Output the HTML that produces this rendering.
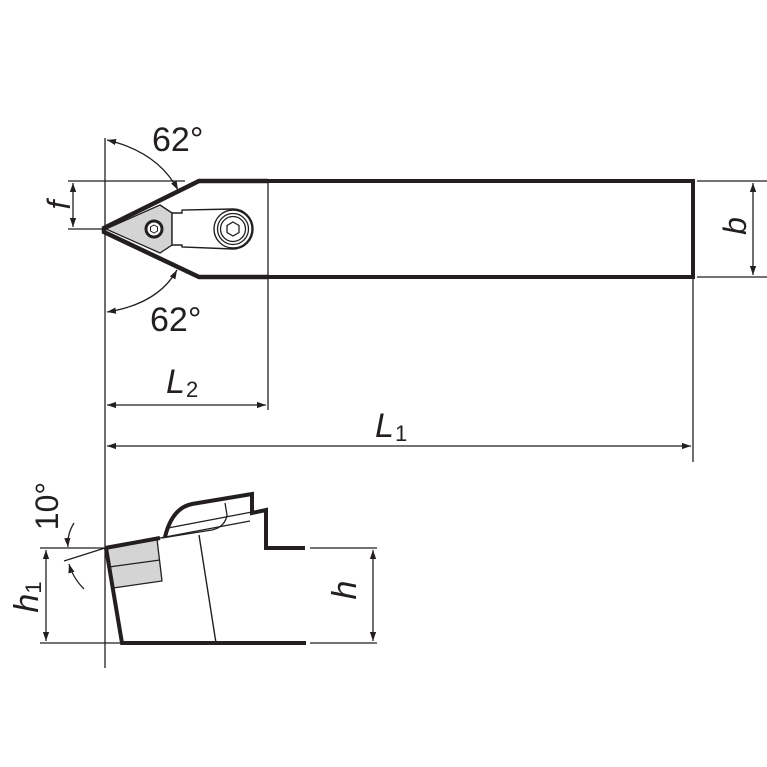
<!DOCTYPE html><html><head><style>body{margin:0;background:#fff}svg{display:block}text{font-family:"Liberation Sans",sans-serif;fill:#231f20}</style></head><body>
<svg width="767" height="767" viewBox="0 0 767 767" xmlns="http://www.w3.org/2000/svg">
<defs><marker id="a" viewBox="0 0 10 10" refX="10" refY="5" markerWidth="9" markerHeight="9" orient="auto-start-reverse" markerUnits="userSpaceOnUse"><path d="M0,1.5 L10,5 L0,8.5 Z" fill="#231f20"/></marker></defs>
<g stroke="#231f20" fill="none" stroke-width="1.3">
<line x1="105" y1="138" x2="105" y2="668"/>
<line x1="268" y1="181" x2="268" y2="410"/>
<line x1="693" y1="277" x2="693" y2="462"/>
<line x1="68" y1="181" x2="185" y2="181"/>
<line x1="68" y1="229" x2="104" y2="229"/>
<line x1="73" y1="183" x2="73" y2="227" marker-start="url(#a)" marker-end="url(#a)"/>
<line x1="697" y1="181" x2="772" y2="181"/>
<line x1="697" y1="277" x2="772" y2="277"/>
<line x1="753" y1="183" x2="753" y2="275" marker-start="url(#a)" marker-end="url(#a)"/>
<line x1="107" y1="405" x2="266" y2="405" marker-start="url(#a)" marker-end="url(#a)"/>
<line x1="107" y1="446" x2="691" y2="446" marker-start="url(#a)" marker-end="url(#a)"/>
<path d="M107,140 Q158,152 178,190" marker-start="url(#a)" marker-end="url(#a)"/>
<path d="M107,312 Q158,304 177,270" marker-start="url(#a)" marker-end="url(#a)"/>
<line x1="40" y1="548" x2="105" y2="548"/>
<line x1="40" y1="643" x2="120" y2="643"/>
<line x1="46" y1="550" x2="46" y2="641" marker-start="url(#a)" marker-end="url(#a)"/>
<line x1="310" y1="548" x2="377" y2="548"/>
<line x1="310" y1="643" x2="377" y2="643"/>
<line x1="373" y1="550" x2="373" y2="641" marker-start="url(#a)" marker-end="url(#a)"/>
<line x1="64" y1="561" x2="105" y2="548"/>
<path d="M74,523 Q67,534 68,547" marker-end="url(#a)"/>
<path d="M69,564 Q73,578 84,589" marker-start="url(#a)"/>
</g>
<path d="M268,181 L693,181 L693,277 L268,277" fill="none" stroke="#231f20" stroke-width="4"/>
<path d="M268,181 L199,181 L104,228 L104,232 L199,277 L268,277" fill="none" stroke="#231f20" stroke-width="4.5"/>
<path d="M106,229 L160,205 L172,213 L172,245 L160,253 Z" fill="#d4d4d4" stroke="#231f20" stroke-width="1.3"/>
<circle cx="154" cy="229" r="8" fill="#fff" stroke="#231f20" stroke-width="3"/>
<polygon points="154,225 157.5,227 157.5,231 154,233 150.5,231 150.5,227" fill="none" stroke="#231f20" stroke-width="1"/>
<path d="M172,245 L172,213 L182,213 L182,210 L233,209 A20,20 0 0 1 233,249 L182,247 L182,245 Z" fill="#fff" stroke="#231f20" stroke-width="1.4"/>
<line x1="172" y1="213" x2="160" y2="205" stroke="#231f20" stroke-width="1.3"/>
<circle cx="233" cy="229" r="19" fill="#fff" stroke="#231f20" stroke-width="1.4"/>
<circle cx="233" cy="229" r="15.5" fill="none" stroke="#231f20" stroke-width="1.3"/>
<circle cx="233" cy="229" r="12.5" fill="none" stroke="#231f20" stroke-width="1.3"/>
<polygon points="233,222 239,225.5 239,232.5 233,236 227,232.5 227,225.5" fill="none" stroke="#231f20" stroke-width="1.3"/>
<path d="M105,548 L113,588 L162,581 L157,539 Z" fill="#d4d4d4" stroke="#231f20" stroke-width="1.3"/>
<line x1="109" y1="567" x2="160" y2="560" stroke="#231f20" stroke-width="1.3"/>
<path d="M106,548 L122,643 L306,643" fill="none" stroke="#231f20" stroke-width="4"/>
<line x1="105" y1="548" x2="160" y2="538" stroke="#231f20" stroke-width="4"/>
<path d="M160,538 L250,521" fill="none" stroke="#231f20" stroke-width="1.3"/>
<line x1="199" y1="535" x2="216" y2="643" stroke="#231f20" stroke-width="1.4"/>
<path d="M165,537 Q172,508 192,504 L252,494 L252,513 L266,510 L266,548 L305,548" fill="none" stroke="#231f20" stroke-width="4"/>
<path d="M168,528 L252,512" fill="none" stroke="#231f20" stroke-width="1.3"/>
<path d="M162,538 Q180,535 212,530 Q225,527 227,515 L225,503" fill="none" stroke="#231f20" stroke-width="1.3"/>
<text x="152" y="151" font-size="34">62°</text>
<text x="150" y="331" font-size="34">62°</text>
<text x="166" y="393" font-size="34" font-style="italic">L</text><text x="186" y="397" font-size="22">2</text>
<text x="375" y="437" font-size="34" font-style="italic">L</text><text x="395" y="441" font-size="22">1</text>
<text transform="translate(70,205) rotate(-90)" font-size="32" font-style="italic" text-anchor="middle">f</text>
<text transform="translate(746,226) rotate(-90)" font-size="32" font-style="italic" text-anchor="middle">b</text>
<text transform="translate(58,506) rotate(-90)" font-size="32" text-anchor="middle">10°</text>
<text transform="translate(38,597) rotate(-90)" font-size="34" font-style="italic" text-anchor="middle">h<tspan font-size="22" font-style="normal" dy="3">1</tspan></text>
<text transform="translate(356,590) rotate(-90)" font-size="34" font-style="italic" text-anchor="middle">h</text>
</svg></body></html>
